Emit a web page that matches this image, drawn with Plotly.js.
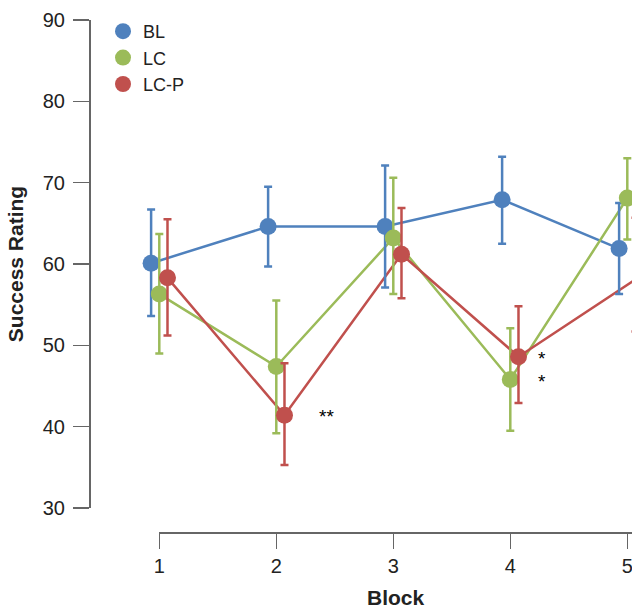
<!DOCTYPE html>
<html>
<head>
<meta charset="utf-8">
<script src="https://cdn.plot.ly/plotly-3.0.1.min.js"></script>
<style>html,body{margin:0;padding:0;overflow:hidden;background:#fff}#chart{width:632px;height:609px}</style>
</head>
<body>
<div id="chart"></div>
<script>
// ---- data ----
var blocks = [1, 2, 3, 4, 5];
var seriesNames = ["BL", "LC", "LC-P"];
var BL_mean  = [60.1, 64.6, 64.6, 67.9, 61.9];
var BL_upper = [66.7, 69.5, 72.1, 73.2, 67.5];
var BL_lower = [53.6, 59.7, 57.1, 62.5, 56.3];
var LC_mean  = [56.3, 47.4, 63.2, 45.8, 68.1];
var LC_upper = [63.7, 55.5, 70.6, 52.1, 73.0];
var LC_lower = [49.0, 39.2, 56.3, 39.5, 63.0];
var LCP_mean  = [58.3, 41.4, 61.2, 48.6, 58.1];
var LCP_upper = [65.5, 47.8, 66.9, 54.8, 65.7];
var LCP_lower = [51.2, 35.3, 55.8, 42.9, 51.7];
var sigLabels = ["**", "*", "*"];
var sigX = [2.43, 4.27, 4.27];
var sigY = [41.2, 48.4, 45.6];
var xTickVals = [1, 2, 3, 4, 5];
var xTickText = ["1", "2", "3", "4", "5"];
var yTickVals = [30, 40, 50, 60, 70, 80, 90];

// ---- style ----
var colors = ["#4F81BD", "#9BBB59", "#C0504D"];
var offsets = [-0.07, 0, 0.07];
var means = [BL_mean, LC_mean, LCP_mean];
var uppers = [BL_upper, LC_upper, LCP_upper];
var lowers = [BL_lower, LC_lower, LCP_lower];
var FONT = "Liberation Sans, Arial, Helvetica, sans-serif";

var traces = [];
for (var s = 0; s < 3; s++) {
  var xs = blocks.map(function (b) { return b + offsets[s]; });
  traces.push({
    type: "scatter", mode: "lines", x: xs, y: means[s],
    line: {color: colors[s], width: 2.5}, showlegend: false,
    cliponaxis: false, hoverinfo: "skip"
  });
}
for (var s = 0; s < 3; s++) {
  var xs = blocks.map(function (b) { return b + offsets[s]; });
  var m = means[s], u = uppers[s], l = lowers[s];
  traces.push({
    type: "scatter", mode: "markers", name: seriesNames[s], x: xs, y: m,
    marker: {color: colors[s], size: 17},
    error_y: {
      type: "data", symmetric: false,
      array: u.map(function (v, i) { return v - m[i]; }),
      arrayminus: l.map(function (v, i) { return m[i] - v; }),
      color: colors[s], thickness: 2.5, width: 4
    },
    cliponaxis: false
  });
}
// carrier for the detached "Block" axis (draws nothing)
traces.push({type: "scatter", mode: "markers", x: xTickVals, y: xTickVals.map(function () { return null; }),
  xaxis: "x2", yaxis: "y", showlegend: false, hoverinfo: "skip", marker: {opacity: 0}});

var annotations = sigLabels.map(function (t, i) {
  return {x: sigX[i], y: sigY[i], xref: "x", yref: "y", text: t, showarrow: false,
    font: {family: FONT, size: 19, color: "#000"}};
});

var W = 632, H = 609;
var px1 = 159.3, pxPerUnit = 117;
var xmax = 1 + (W - px1) / pxPerUnit;
var layout = {
  width: W, height: H,
  margin: {l: 0, r: 0, t: 0, b: 0},
  paper_bgcolor: "#fff", plot_bgcolor: "rgba(0,0,0,0)",
  font: {family: FONT, color: "#222"},
  showlegend: true,
  legend: {x: 103 / W, y: 1 - 13 / H, xanchor: "left", yanchor: "top",
    font: {size: 18, color: "#222"}, itemwidth: 30,
    bgcolor: "rgba(0,0,0,0)"},
  xaxis: {
    domain: [0, 1], range: [1 - px1 / pxPerUnit, xmax],
    visible: false, anchor: "y"
  },
  xaxis2: {
    domain: [px1 / W, 1], range: [1, xmax],
    anchor: "free", position: 1 - 532 / H,
    showline: true, linecolor: "#666", linewidth: 1.5,
    ticks: "outside", ticklen: 15, tickwidth: 1.5, tickcolor: "#666",
    tickvals: xTickVals, ticktext: xTickText, ticklabeloverflow: "allow",
    showgrid: false, zeroline: false,
    tickfont: {size: 20, color: "#222"},
    title: {text: "<b>Block</b>", font: {size: 21, color: "#222"}, standoff: 15}
  },
  yaxis: {
    domain: [1 - 508 / H, 1 - 20 / H], range: [30, 90],
    anchor: "free", position: 89 / W,
    showline: true, linecolor: "#666", linewidth: 1.5,
    ticks: "outside", ticklen: 16, tickwidth: 1.5, tickcolor: "#666",
    tickvals: yTickVals, showgrid: false, zeroline: false,
    tickfont: {size: 20, color: "#222"}, ticklabelstandoff: 4,
    title: {text: "<b>Success Rating</b>", font: {size: 21, color: "#222"}, standoff: 12}
  },
  annotations: annotations
};

Plotly.newPlot("chart", traces, layout, {displayModeBar: false, staticPlot: true});
</script>
</body>
</html>
